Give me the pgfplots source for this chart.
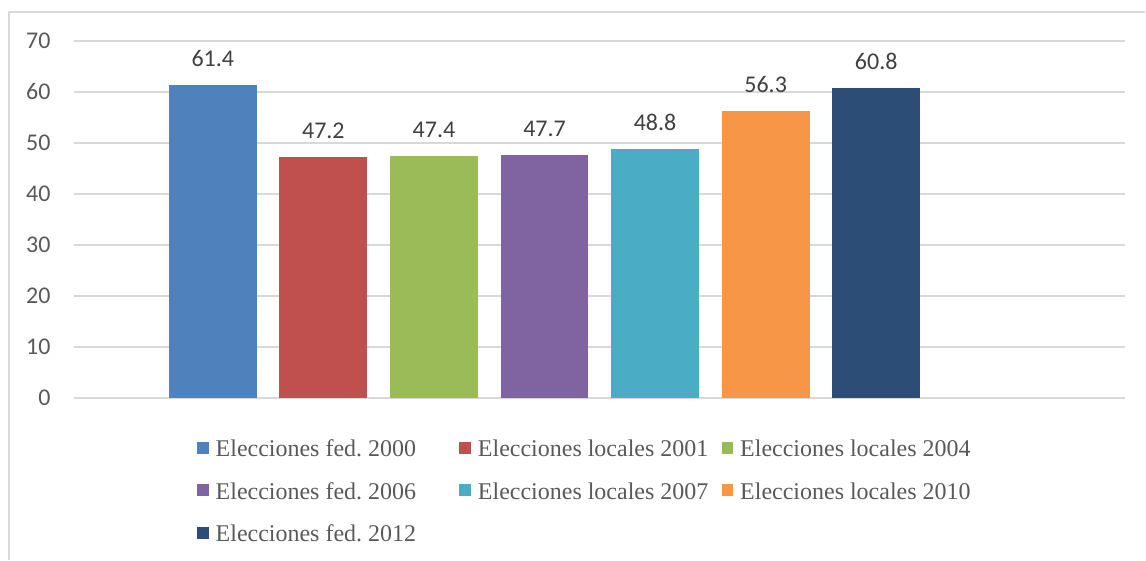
\documentclass[border=0pt]{standalone}
\usepackage{pgfplots}
\pgfplotsset{compat=1.18}
\usepackage{fontspec}
\setmainfont{Liberation Serif}
\newfontfamily\calibri{Carlito}
\frenchspacing
\definecolor{c1}{HTML}{4F81BD}
\definecolor{c2}{HTML}{C0504D}
\definecolor{c3}{HTML}{9BBB59}
\definecolor{c4}{HTML}{8064A2}
\definecolor{c5}{HTML}{4BACC6}
\definecolor{c6}{HTML}{F79646}
\definecolor{c7}{HTML}{2C4D75}
\definecolor{gridc}{HTML}{D9D9D9}
\definecolor{txt}{HTML}{595959}
\definecolor{lbl}{HTML}{404040}
\newcommand{\lent}[1]{\makebox[122pt][l]{#1}}
\begin{document}
\begin{tikzpicture}
\path (0pt,0pt) rectangle (573pt,-280pt);
\draw[gridc, line width=1pt] (4.75pt,-280pt) -- (4.75pt,-6.25pt) -- (573pt,-6.25pt);
\begin{axis}[
  at={(37pt,-199pt)}, anchor=south west,
  scale only axis, width=526pt, height=178.5pt,
  xmin=-1.256, xmax=8.25, ymin=0, ymax=70,
  axis line style={draw=none},
  ytick={0,10,...,70}, xtick=\empty,
  ymajorgrids, major grid style={gridc, line width=1pt},
  major tick length=0pt,
  /pgf/number format/assume math mode=true,
  yticklabel style={font=\calibri\fontsize{12pt}{14pt}\selectfont, text=txt, inner sep=0pt, anchor=east, xshift=-11.5pt},
  ybar, bar width=0.795, bar shift=0pt,
  nodes near coords,
  nodes near coords style={font=\calibri\fontsize{12pt}{14pt}\selectfont, text=lbl, inner sep=0pt, anchor=south, yshift=9pt, /pgf/number format/.cd, fixed, precision=1, fixed zerofill, assume math mode=true},
  legend columns=3,
  legend style={draw=none, fill=none, inner sep=0pt, at={(0.1169,-0.1148)}, anchor=north west,
    font=\fontsize{12pt}{14pt}\selectfont, text=txt,
    nodes={inner sep=0pt, text height=9pt, text depth=3pt},
    row sep=9.2pt,
    /tikz/every odd column/.append style={column sep=3.5pt}},
  legend image code/.code={\fill[#1] (0pt,-1.5pt) rectangle (5.75pt,4.5pt);},
]
\addplot+[draw=none, fill=c1] coordinates {(0,61.4)};
\addlegendentry{\lent{Elecciones fed. 2000}}
\addplot+[draw=none, fill=c2] coordinates {(1,47.2)};
\addlegendentry{\lent{Elecciones locales 2001}}
\addplot+[draw=none, fill=c3] coordinates {(2,47.4)};
\addlegendentry{\lent{Elecciones locales 2004}}
\addplot+[draw=none, fill=c4] coordinates {(3,47.7)};
\addlegendentry{\lent{Elecciones fed. 2006}}
\addplot+[draw=none, fill=c5] coordinates {(4,48.8)};
\addlegendentry{\lent{Elecciones locales 2007}}
\addplot+[draw=none, fill=c6] coordinates {(5,56.3)};
\addlegendentry{\lent{Elecciones locales 2010}}
\addplot+[draw=none, fill=c7] coordinates {(6,60.8)};
\addlegendentry{\lent{Elecciones fed. 2012}}
\end{axis}
\end{tikzpicture}
\end{document}
